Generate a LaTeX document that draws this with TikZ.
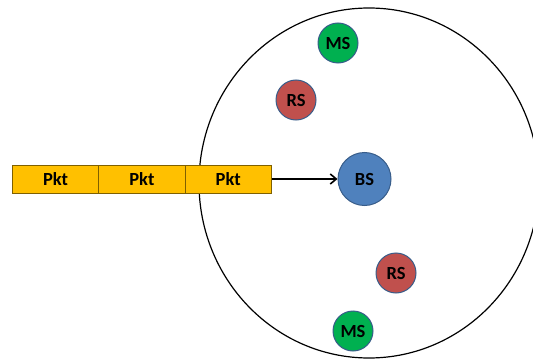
\documentclass[tikz,border=0pt]{standalone}
\usepackage{fontspec}
\setmainfont{Carlito}
\usetikzlibrary{arrows.meta}
\definecolor{pktfill}{HTML}{FFC000}
\definecolor{pktdraw}{HTML}{7F6000}
\definecolor{msfill}{HTML}{00B050}
\definecolor{rsfill}{HTML}{C0504D}
\definecolor{bsfill}{HTML}{4F81BD}
\definecolor{nodedraw}{HTML}{385D8A}
\tikzset{
  lbl/.style={font=\fontsize{18.5}{20}\selectfont\bfseries, text=black},
  pkt/.style={lbl, draw=pktdraw, fill=pktfill, line width=0.9pt, minimum width=86.3pt, minimum height=28pt, inner sep=0pt, anchor=west},
  station/.style={lbl, circle, draw=nodedraw, line width=1pt, inner sep=0pt},
  ms/.style={station, fill=msfill, minimum size=40pt},
  rs/.style={station, fill=rsfill, minimum size=40pt},
  bs/.style={station, fill=bsfill, minimum size=53pt},
}
\begin{document}
\begin{tikzpicture}[x=1pt,y=-1pt]
\useasboundingbox (0,0) rectangle (533,361);
\begin{scope}
\clip (0,0) rectangle (533,361);
\draw[line width=1.2pt] (369,183) ellipse [x radius=170, y radius=175];
\end{scope}
\node[pkt] (p1) at (12,179) {Pkt};
\node[pkt] (p2) at (98.3,179) {Pkt};
\node[pkt] (p3) at (184.6,179) {Pkt};
\node[ms] (ms1) at (338,43) {MS};
\node[rs] (rs1) at (296,100) {RS};
\node[bs] (bs) at (364.5,179) {BS};
\node[rs] (rs2) at (396,273) {RS};
\node[ms] (ms2) at (353,331) {MS};
\draw[line width=1.6pt, -{Straight Barb[length=6pt,width=10pt]}] (p3.east) -- (bs.west);
\end{tikzpicture}
\end{document}
